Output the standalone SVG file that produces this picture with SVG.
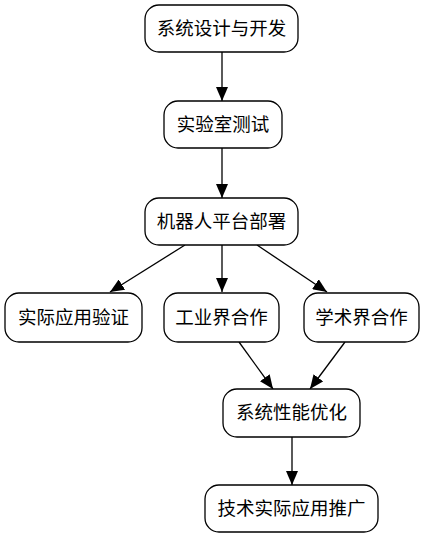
<svg xmlns="http://www.w3.org/2000/svg" width="426" height="539" viewBox="0 0 426 539">
<style>
.box{fill:#fff;stroke:#000;stroke-width:1.3}
.lbl{font-family:"Liberation Sans","Noto Sans CJK SC",sans-serif;font-size:18.5px;text-anchor:middle;fill:#000}
.edge{stroke:#000;stroke-width:1.3;fill:none;marker-end:url(#arr)}
</style>
<defs>
<marker id="arr" markerUnits="userSpaceOnUse" markerWidth="14" markerHeight="12" refX="14" refY="6" viewBox="0 0 14 12" orient="auto">
<path d="M0,0 L14,6 L0,12 Z" fill="#000"/>
</marker>
</defs>
<rect width="426" height="539" fill="#fff"/>
<g id="connectors">
<line class="edge" x1="222" y1="52" x2="222" y2="101"/>
<line class="edge" x1="222" y1="148" x2="222" y2="198"/>
<line class="edge" x1="185" y1="245" x2="110" y2="292"/>
<line class="edge" x1="222" y1="245" x2="222" y2="292"/>
<line class="edge" x1="257" y1="245" x2="327" y2="292"/>
<line class="edge" x1="239" y1="342" x2="273" y2="389"/>
<line class="edge" x1="345" y1="342" x2="310" y2="389"/>
<line class="edge" x1="292" y1="437" x2="292" y2="485"/>
</g>
<g id="n1"><rect class="box" x="145" y="5" width="153" height="47" rx="14"/><text class="lbl" x="221.5" y="35">系统设计与开发</text></g>
<g id="n2"><rect class="box" x="164" y="101" width="118" height="47" rx="14"/><text class="lbl" x="223" y="131">实验室测试</text></g>
<g id="n3"><rect class="box" x="145" y="198" width="153" height="47" rx="14"/><text class="lbl" x="221.5" y="228">机器人平台部署</text></g>
<g id="n4"><rect class="box" x="5" y="293" width="137" height="49" rx="14"/><text class="lbl" x="73.5" y="324">实际应用验证</text></g>
<g id="n5"><rect class="box" x="164" y="293" width="115" height="49" rx="14"/><text class="lbl" x="221.5" y="324">工业界合作</text></g>
<g id="n6"><rect class="box" x="304" y="293" width="115" height="49" rx="14"/><text class="lbl" x="361.5" y="324">学术界合作</text></g>
<g id="n7"><rect class="box" x="223" y="389" width="137" height="48" rx="14"/><text class="lbl" x="291.5" y="419">系统性能优化</text></g>
<g id="n8"><rect class="box" x="205" y="485" width="173" height="47" rx="14"/><text class="lbl" x="291.5" y="515">技术实际应用推广</text></g>
</svg>
